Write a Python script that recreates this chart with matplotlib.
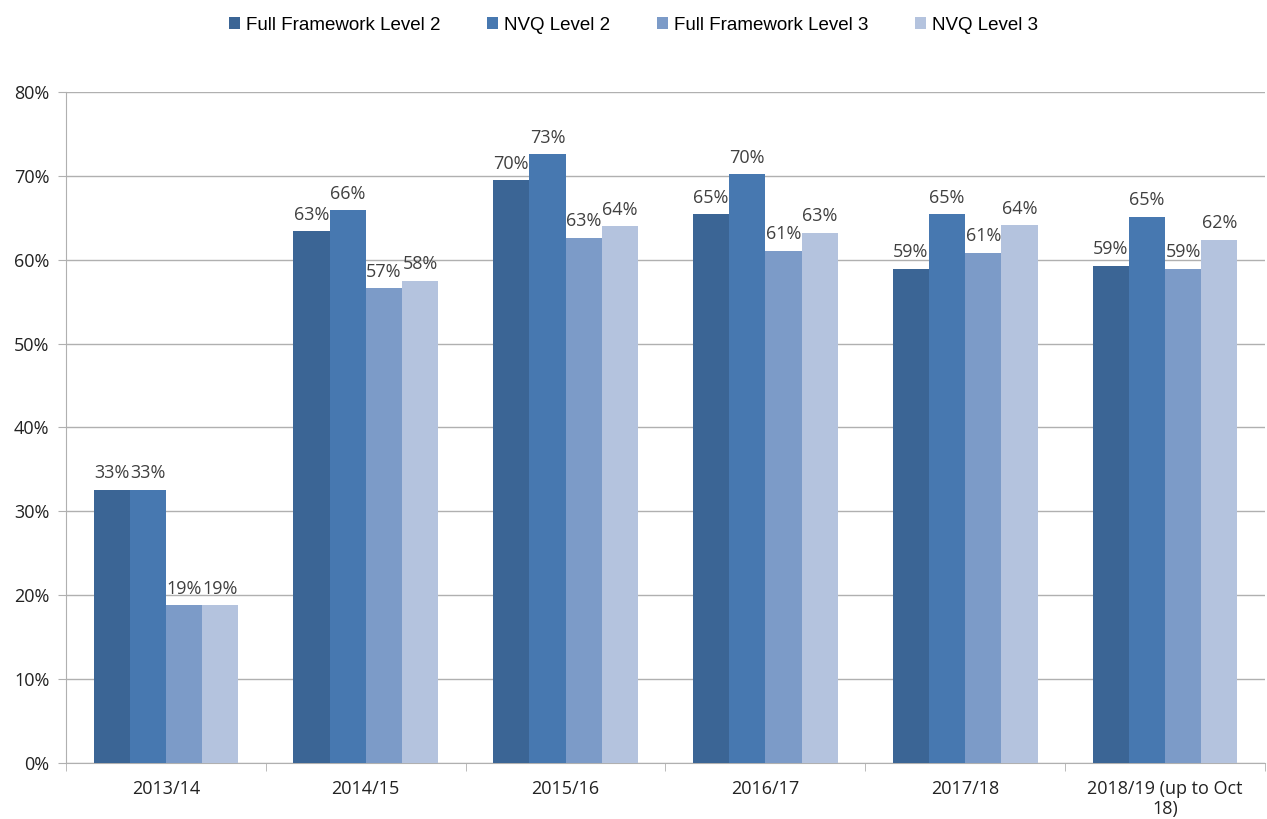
import numpy as np
import matplotlib.pyplot as plt

categories = ["2013/14", "2014/15", "2015/16", "2016/17", "2017/18", "2018/19 (up to Oct\n18)"]
series_names = ["Full Framework Level 2", "NVQ Level 2", "Full Framework Level 3", "NVQ Level 3"]
ff_l2 = [32.6, 63.4, 69.5, 65.4, 58.9, 59.3]
nvq_l2 = [32.6, 65.9, 72.6, 70.2, 65.4, 65.1]
ff_l3 = [18.8, 56.6, 62.6, 61.1, 60.8, 58.9]
nvq_l3 = [18.8, 57.5, 64.0, 63.2, 64.1, 62.4]
values = [ff_l2, nvq_l2, ff_l3, nvq_l3]
colors = ["#3b6595", "#4778b0", "#7c9bc8", "#b4c3de"]

plt.rcParams['font.family'] = ['Open Sans', 'DejaVu Sans']

fig = plt.figure(figsize=(12.67, 8.19), dpi=100)
ax = fig.add_axes([66/1267, 1-763/819, 1199/1267, 671/819])

x = np.arange(len(categories))
w = 0.181
for i, (vals, name, c) in enumerate(zip(values, series_names, colors)):
    pos = x + (i - 1.5) * w
    ax.bar(pos, vals, w, color=c, label=name, zorder=3)
    for px, v in zip(pos, vals):
        ax.text(px, v + 0.9, f"{v:.0f}%", ha='center', va='bottom', fontsize=13, color='#404040', zorder=4)

ax.set_xlim(-0.5, len(categories) - 0.5)
ax.set_ylim(0, 80)
ax.set_yticks(range(0, 81, 10))
ax.set_yticklabels([f"{t}%" for t in range(0, 81, 10)], fontsize=13, color='#222222')
ax.yaxis.grid(True, color='#b0b0b0', linewidth=1, zorder=0)

ax.set_xticks(x)
ax.set_xticklabels(categories, fontsize=13, color='#222222')
ax.set_xticks(np.arange(-0.5, len(categories)), minor=True)
ax.tick_params(axis='x', which='major', length=0, pad=12)
ax.tick_params(axis='x', which='minor', length=6, color='#b0b0b0')
ax.tick_params(axis='y', length=6, color='#b0b0b0', pad=6)

for s in ['top', 'right']:
    ax.spines[s].set_visible(False)
for s in ['left', 'bottom']:
    ax.spines[s].set_color('#b0b0b0')

fig.legend(loc='upper center', bbox_to_anchor=(0.5, 1.0), ncol=4, frameon=False,
           handlelength=0.6, handleheight=0.6, handletextpad=0.3,
           columnspacing=2.5, prop={'family': 'Liberation Sans', 'size': 13.5})

fig.savefig("out.png", dpi=100)
